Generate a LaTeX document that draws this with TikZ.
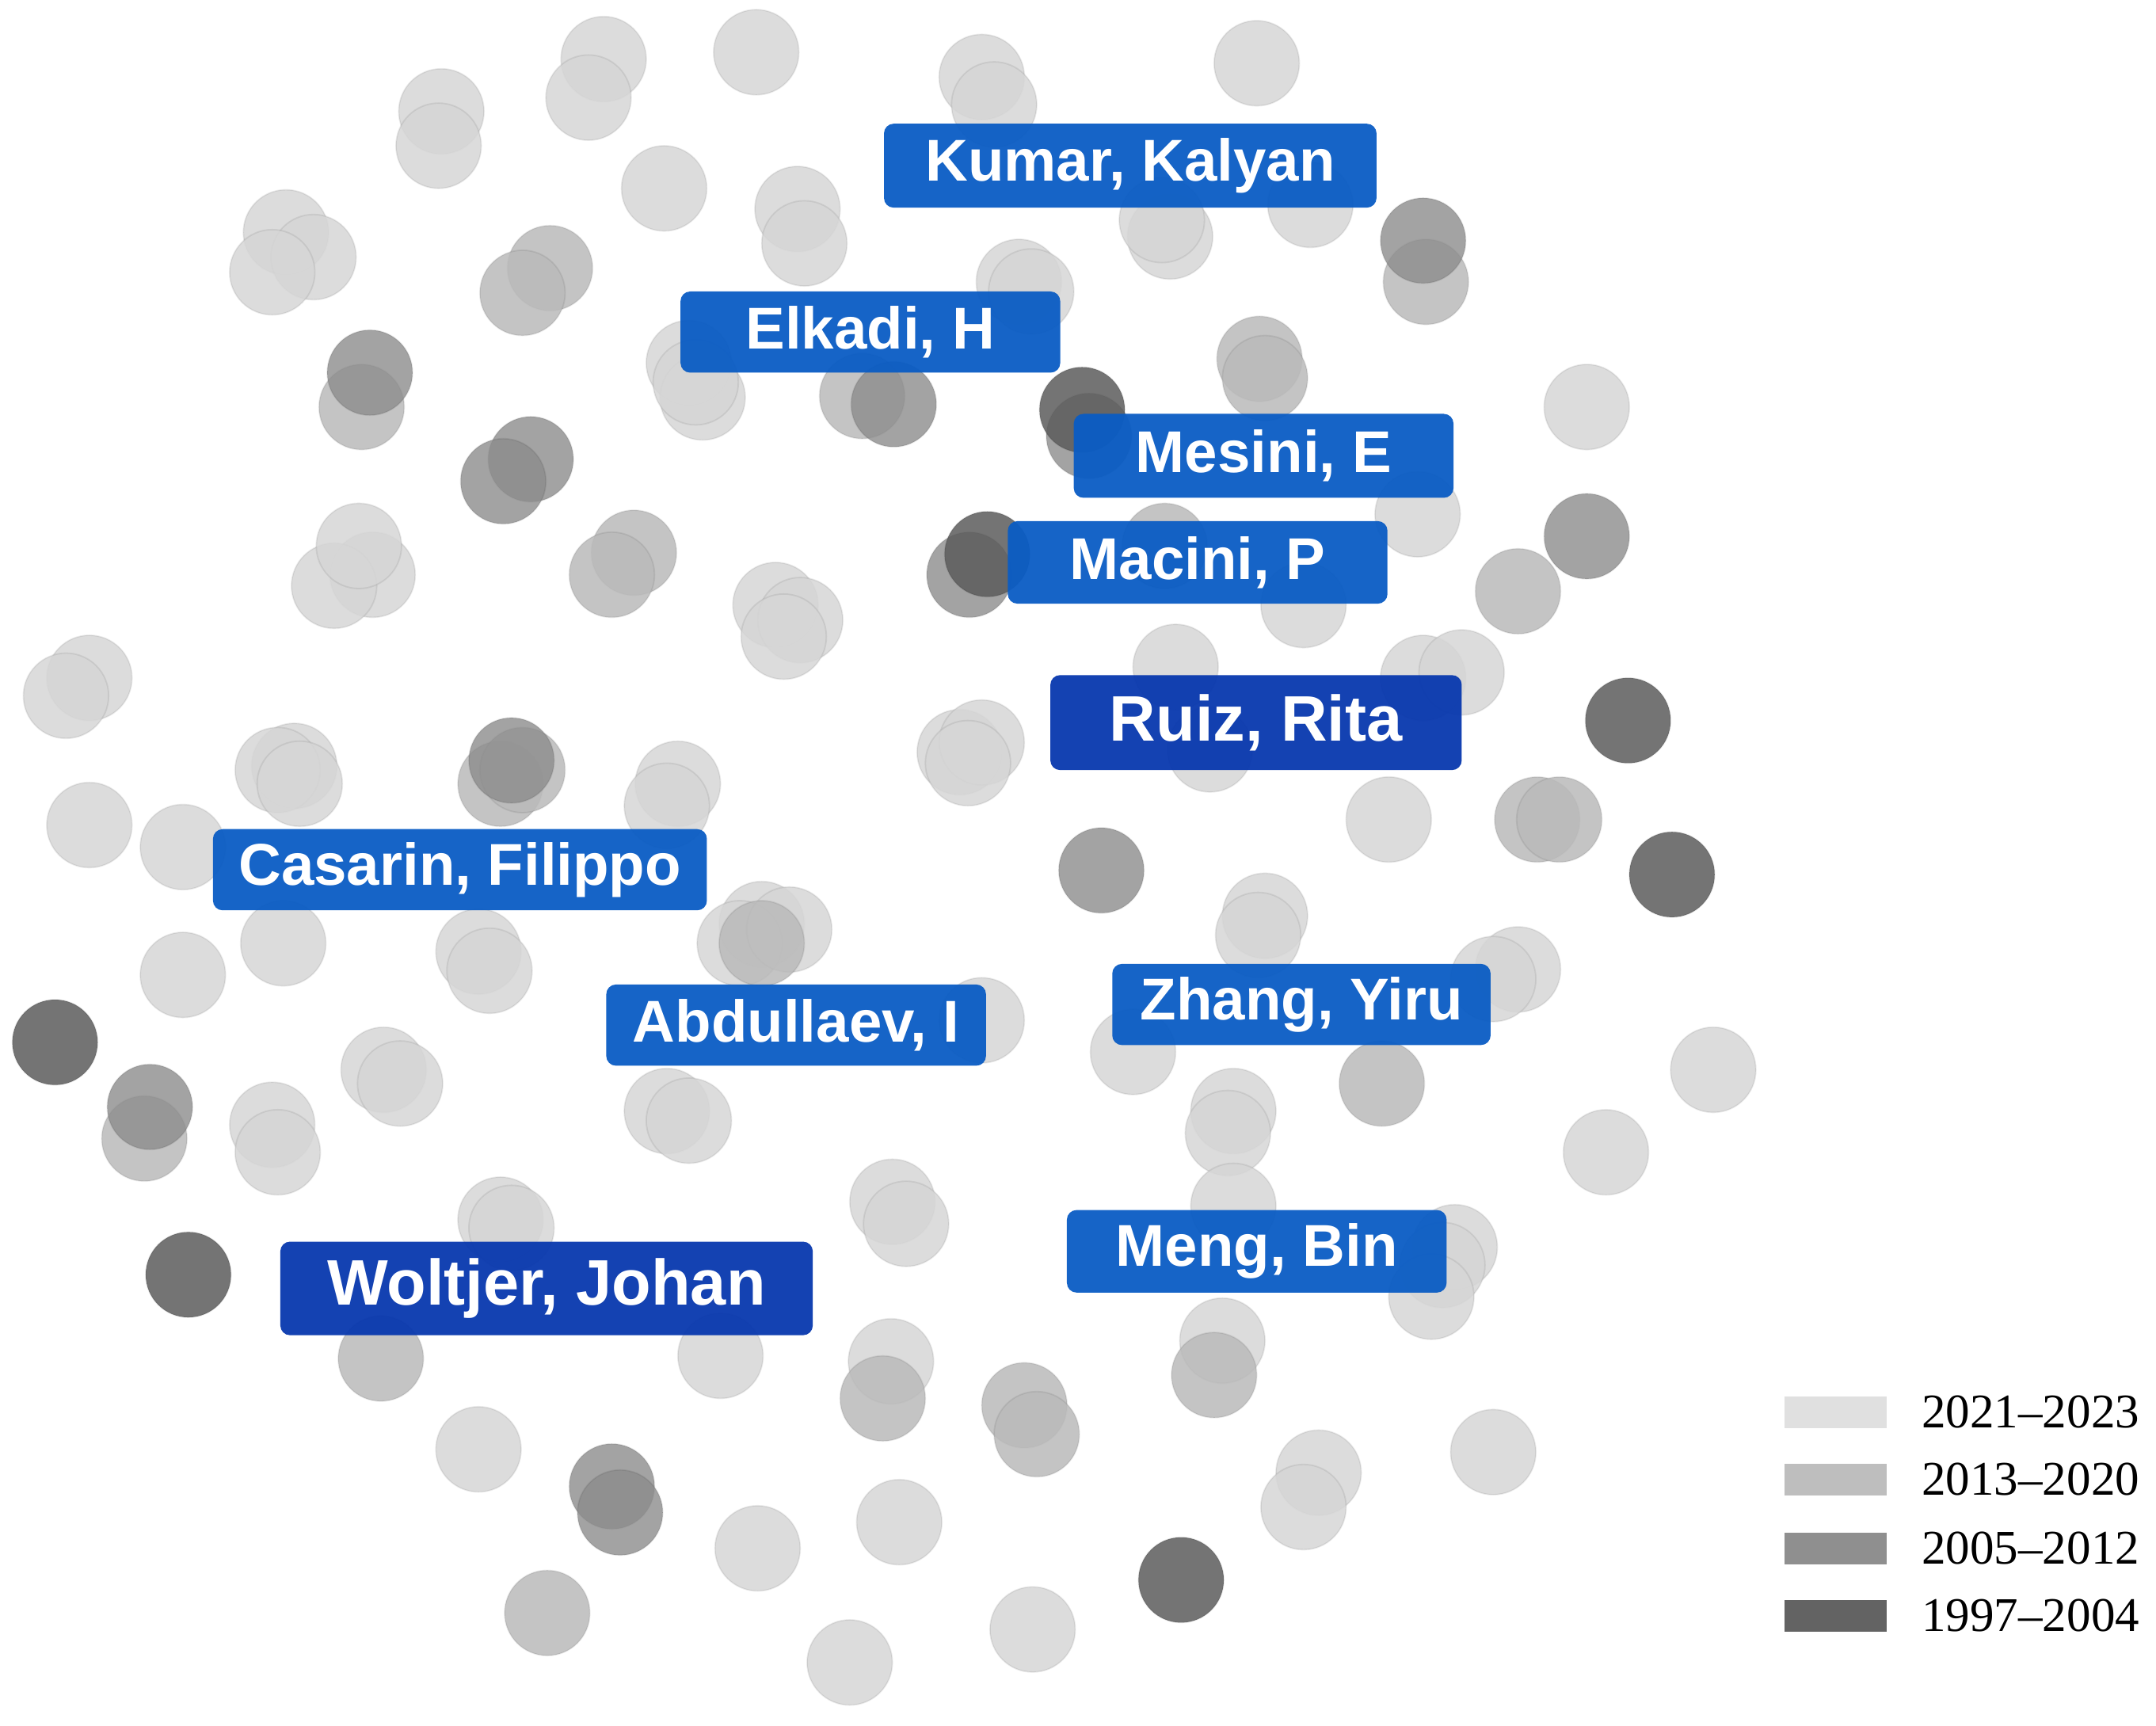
\documentclass[tikz,border=0pt]{standalone}
\usepackage{fontspec}
\newfontfamily\labfont{Liberation Sans}
\newfontfamily\legfont{Liberation Serif}
\definecolor{cA}{HTML}{D6D6D6}
\definecolor{cB}{HTML}{BABABA}
\definecolor{cC}{HTML}{8C8C8C}
\definecolor{cD}{HTML}{5C5C5C}
\definecolor{lgA}{HTML}{E0E0E0}
\definecolor{lgB}{HTML}{BEBEBE}
\definecolor{lgC}{HTML}{8F8F8F}
\definecolor{lgD}{HTML}{636363}
\definecolor{blueA}{HTML}{0A5CC4}
\definecolor{blueB}{HTML}{0838AE}
\begin{document}
\begin{tikzpicture}[x=0.01cm,y=-0.01cm,
  dot/.style={draw=black, draw opacity=0.07, line width=0.3pt, fill opacity=0.85},
  labelbox/.style={fill=#1, fill opacity=0.95, text opacity=1, text=white,
    rounded corners=2pt, inner sep=0pt,
    font=\labfont\bfseries\fontsize{12.2}{14}\selectfont},
  biglabel/.style={labelbox=#1, font=\labfont\bfseries\fontsize{13.3}{15}\selectfont},
  swatch/.style={fill=#1, draw=none, minimum width=0.74cm, minimum height=0.23cm, inner sep=0pt},
  legtext/.style={anchor=west, inner sep=0pt, font=\legfont\fontsize{10}{12}\selectfont}]
\fill[white] (0,0) rectangle (1568,1255);
\useasboundingbox (0,0) rectangle (1568,1255);
% 2021-2023
\foreach \p in {(439,43),(428,71),(321,81),(319,106),(483,137),(580,152),(585,177),
  (208,169),(228,187),(198,198),(714,56),(723,76),(914,46),(851,172),(845,160),(953,149),
  (501,264),(511,289),(506,278),(741,205),(750,212),(1154,296),(1031,374),(948,440),
  (1035,493),(1063,489),(564,440),(582,451),(570,463),(65,493),(48,506),
  (214,557),(202,560),(218,570),(493,570),(485,586),(65,600),(133,616),(206,686),(133,709),
  (348,692),(356,706),(554,672),(538,686),(574,676),(198,818),(202,838),(279,778),(291,788),
  (485,808),(501,815),(364,887),(372,893),(698,547),(714,540),(704,555),(1010,596),
  (920,666),(915,680),(1104,705),(1086,712),(714,742),(824,765),(897,808),(893,824),
  (1246,778),(1168,838),(649,874),(659,890),(897,877),(1058,907),(1049,920),
  (524,986),(648,990),(889,975),(1041,943),(348,1054),(551,1126),(654,1107),(959,1071),
  (948,1096),(1086,1056),(751,1185),(618,1209),(880,545),(855,485),(271,418),(243,426),
  (550,38),(261,397)}
  \filldraw[dot, fill=cA] \p circle[radius=0.31cm];
% 2013-2020
\foreach \p in {(400,195),(380,213),(916,261),(920,275),(461,402),
  (445,418),(1104,430),(1118,596),(1134,596),(1005,788),(745,1022),(754,1043),(642,1017),
  (883,1000),(398,1173),(847,397),(1037,205),(263,296),(627,288),(364,570),(380,560),
  (105,828),(277,988),(554,686)}
  \filldraw[dot, fill=cB] \p circle[radius=0.31cm];
% 2005-2012
\foreach \p in {(1035,175),(269,271),(650,294),(386,334),(366,350),(1154,390),(372,553),
  (801,633),(109,805),(445,1081),(451,1100),(792,317),(705,418)}
  \filldraw[dot, fill=cC, fill opacity=0.8] \p circle[radius=0.31cm];
% 1997-2004
\foreach \p in {(787,298),(718,403),(1184,524),(1216,636),(40,758),(137,927),(859,1149)}
  \filldraw[dot, fill=cD] \p circle[radius=0.31cm];
% labels
\node[labelbox=blueA, minimum width=3.58cm, minimum height=0.61cm] (kumar) at (822,120.5) {Kumar, Kalyan};
\node[labelbox=blueA, minimum width=2.76cm, minimum height=0.59cm] (elkadi) at (633,241.5) {Elkadi, H};
\node[labelbox=blueA, minimum width=2.76cm, minimum height=0.61cm] (mesini) at (919,331.5) {Mesini, E};
\node[labelbox=blueA, minimum width=2.76cm, minimum height=0.60cm] (macini) at (871,409) {Macini, P};
\node[biglabel=blueB, minimum width=2.99cm, minimum height=0.69cm] (ruiz) at (913.5,525.5) {Ruiz, Rita};
\node[labelbox=blueA, minimum width=3.59cm, minimum height=0.59cm] (casarin) at (334.5,632.5) {Casarin, Filippo};
\node[labelbox=blueA, minimum width=2.76cm, minimum height=0.59cm] (abdullaev) at (579,745.5) {Abdullaev, I};
\node[labelbox=blueA, minimum width=2.75cm, minimum height=0.59cm] (zhang) at (946.5,730.5) {Zhang, Yiru};
\node[labelbox=blueA, minimum width=2.76cm, minimum height=0.60cm] (meng) at (914,910) {Meng, Bin};
\node[biglabel=blueB, minimum width=3.87cm, minimum height=0.68cm] (woltjer) at (397.5,937) {Woltjer, Johan};
% legend
\node[swatch=lgA] (sw1) at (1335,1027) {};
\node[swatch=lgB] (sw2) at (1335,1076) {};
\node[swatch=lgC] (sw3) at (1335,1126) {};
\node[swatch=lgD] (sw4) at (1335,1175) {};
\node[legtext] (lg1) at (1397,1027) {2021–2023};
\node[legtext] (lg2) at (1397,1076) {2013–2020};
\node[legtext] (lg3) at (1397,1126) {2005–2012};
\node[legtext] (lg4) at (1397,1175) {1997–2004};
\end{tikzpicture}
\end{document}
